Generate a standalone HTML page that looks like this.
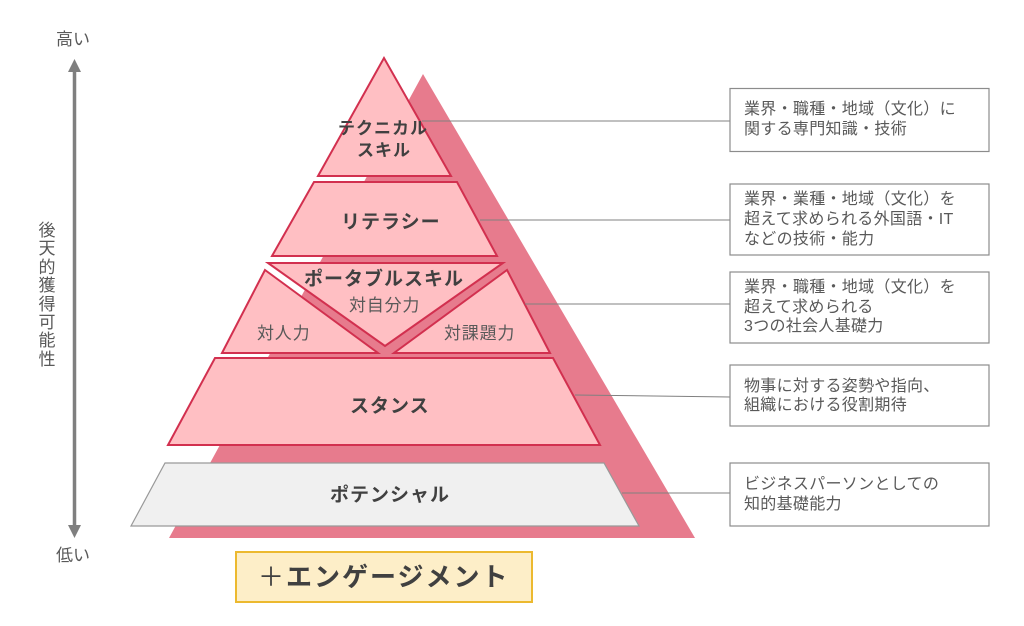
<!DOCTYPE html>
<html lang="ja">
<head>
<meta charset="utf-8">
<title>Pyramid</title>
<style>
html,body{margin:0;padding:0;background:#fff;width:1024px;height:626px;overflow:hidden}
svg{display:block}
text{font-family:"Liberation Sans","Noto Sans CJK JP",sans-serif}
.s{font-size:16px;letter-spacing:.3px;fill:#595959}
.m{font-size:17px;letter-spacing:.8px;fill:#595959}
.b{font-size:19px;letter-spacing:1px;font-weight:700;fill:#404040}
.p{fill:#ffbfc3;stroke:#d2304f;stroke-width:2;stroke-linejoin:miter}
.box{fill:#fff;stroke:#8c8c8c;stroke-width:1.2}
.ln{stroke:#808080;stroke-width:1;fill:none}
</style>
</head>
<body>
<svg width="1024" height="626" viewBox="0 0 1024 626" xmlns="http://www.w3.org/2000/svg">
<rect width="1024" height="626" fill="#fff"/>
<polygon points="423,74 169,538 695,538" fill="#e77b8d"/>

<polygon class="p" points="384,58 318,176 451,176"/>
<polygon class="p" points="314,182 457,182 497,256 272,256"/>
<polygon class="p" points="268,263 503,263 385,346"/>
<polygon class="p" points="265,270 378,353 222,353"/>
<polygon class="p" points="507,270 550,353 394,353"/>
<polygon class="p" points="215,358 553,358 600,445 168,445"/>
<polygon points="165,463 604,463 639,526 131,526" fill="#f0f0f0" stroke="#999" stroke-width="1.2"/>
<rect x="236" y="552" width="296" height="50" fill="#fdeec8" stroke="#ecb92f" stroke-width="2"/>

<line class="ln" x1="422" y1="121" x2="730" y2="121"/>
<line class="ln" x1="480" y1="220" x2="730" y2="220"/>
<line class="ln" x1="525" y1="304" x2="730" y2="304"/>
<line class="ln" x1="575" y1="395" x2="730" y2="397"/>
<line class="ln" x1="622" y1="493" x2="730" y2="493"/>

<text class="b" x="338" y="134" style="font-size:17px;letter-spacing:1px">テクニカル</text>
<text class="b" x="357" y="156" style="font-size:17px;letter-spacing:1px">スキル</text>
<text class="b" x="341" y="228">リテラシー</text>
<text class="b" x="304" y="285">ポータブルスキル</text>
<text class="m" x="349" y="311">対自分力</text>
<text class="m" x="257" y="339">対人力</text>
<text class="m" x="444" y="339">対課題力</text>
<text class="b" x="350" y="412">スタンス</text>
<text class="b" x="330" y="501">ポテンシャル</text>
<text x="258" y="586" style="font-size:26px;letter-spacing:2px;font-weight:700;fill:#404040"><tspan style="font-weight:400">＋</tspan>エンゲージメント</text>

<rect class="box" x="730" y="88.500" width="259" height="63"/>
<text class="s" x="744" y="114">業界・職種・地域（文化）に</text>
<text class="s" x="744" y="134">関する専門知識・技術</text>

<rect class="box" x="730" y="184" width="259" height="71"/>
<text class="s" x="744" y="204">業界・業種・地域（文化）を</text>
<text class="s" x="744" y="224">超えて求められる外国語・IT</text>
<text class="s" x="744" y="244">などの技術・能力</text>

<rect class="box" x="730" y="272" width="259" height="71"/>
<text class="s" x="744" y="292">業界・職種・地域（文化）を</text>
<text class="s" x="744" y="312">超えて求められる</text>
<text class="s" x="744" y="331">3つの社会人基礎力</text>

<rect class="box" x="730" y="365" width="259" height="61"/>
<text class="s" x="744" y="391">物事に対する姿勢や指向、</text>
<text class="s" x="744" y="410">組織における役割期待</text>

<rect class="box" x="730" y="463" width="259" height="63"/>
<text class="s" x="744" y="489">ビジネスパーソンとしての</text>
<text class="s" x="744" y="509">知的基礎能力</text>

<line x1="74.500" y1="70" x2="74.500" y2="528" stroke="#7f7f7f" stroke-width="3.500"/>
<polygon points="74.500,59 81,72 68,72" fill="#7f7f7f"/>
<polygon points="74.500,538 81,525 68,525" fill="#7f7f7f"/>

<text x="56" y="45" style="font-size:17px;fill:#595959">高い</text>
<text x="56" y="561" style="font-size:17px;fill:#595959">低い</text>

<g style="font-size:17px;fill:#595959" text-anchor="middle">
<text x="47" y="236">後</text>
<text x="47" y="254">天</text>
<text x="47" y="273">的</text>
<text x="47" y="291">獲</text>
<text x="47" y="310">得</text>
<text x="47" y="328">可</text>
<text x="47" y="346">能</text>
<text x="47" y="365">性</text>
</g>
</svg>
</body>
</html>
